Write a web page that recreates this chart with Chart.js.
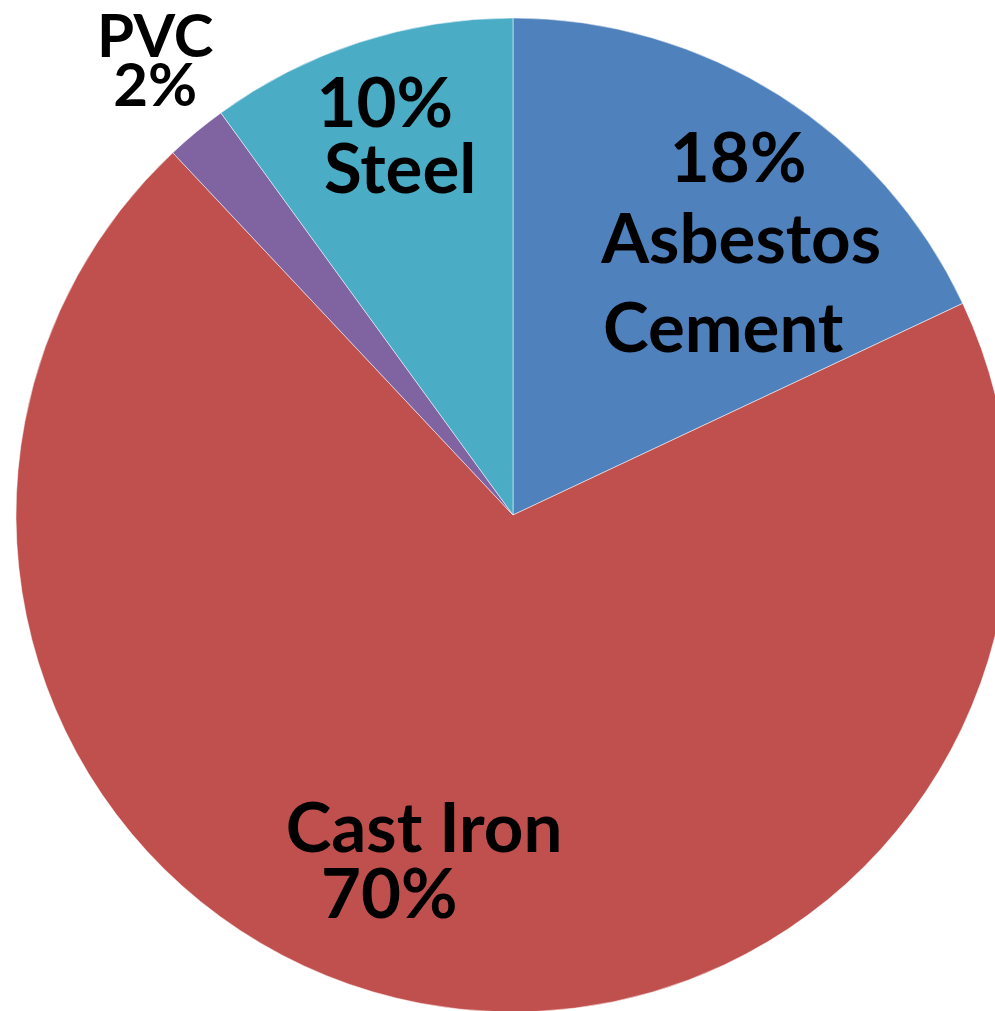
<!DOCTYPE html>
<html>
<head>
<meta charset="utf-8">
<script src="https://cdn.jsdelivr.net/npm/chart.js@4/dist/chart.umd.min.js"></script>
<style>
  html, body { margin: 0; padding: 0; background: #fff; overflow: hidden; }
  #wrap { width: 1026px; height: 1030px; }
</style>
</head>
<body>
<div id="wrap"><canvas id="pipeChart" width="1026" height="1030"></canvas></div>
<script>
// pipe material shares (%), clockwise from 12 o'clock
const materials = ['Asbestos Cement', 'Cast Iron', 'PVC', 'Steel']
const shares = [18, 70, 2, 10]
const sliceColors = ['#4F81BD', '#C0504D', '#8064A2', '#4BACC6']

// label lines for each slice, placed in units of the radius from the centre
const labelLayout = [
    [{ k: 'pct', dx: 0.453, dy: -0.670 }, { k: 'Asbestos', dx: 0.459, dy: -0.507 }, { k: 'Cement', dx: 0.423, dy: -0.328 }],
    [{ k: 'Cast Iron', dx: -0.179, dy: 0.678 }, { k: 'pct', dx: -0.249, dy: 0.811 }],
    [{ k: 'PVC', dx: -0.720, dy: -0.921, size: 60 }, { k: 'pct', dx: -0.720, dy: -0.823, size: 60 }],
    [{ k: 'pct', dx: -0.258, dy: -0.781 }, { k: 'Steel', dx: -0.227, dy: -0.648 }]
]

const sliceLabels = {
    id: 'sliceLabels',
    afterDatasetsDraw(chart) {
        const ctx = chart.ctx
        const arc = chart.getDatasetMeta(0).data[0]
        const cx = arc.x, cy = arc.y, r = arc.outerRadius
        ctx.save()
        ctx.fillStyle = '#000'
        ctx.textAlign = 'center'
        ctx.textBaseline = 'alphabetic'
        labelLayout.forEach((lines, i) => {
            lines.forEach(l => {
                const txt = l.k === 'pct' ? shares[i] + '%' : l.k
                ctx.font = 'bold ' + (l.size || 69) + 'px Lato'
                ctx.fillText(txt, cx + l.dx * r, cy + l.dy * r)
            })
        })
        ctx.restore()
    }
}

new Chart(document.getElementById('pipeChart'), {
    type: 'pie',
    data: {
        labels: materials,
        datasets: [{
            data: shares,
            backgroundColor: sliceColors,
            borderColor: 'rgba(255,255,255,0.5)',
            borderWidth: 1
        }]
    },
    options: {
        responsive: false,
        animation: false,
        radius: 497,
        layout: { padding: 16 },
        plugins: {
            legend: { display: false },
            tooltip: { enabled: false }
        }
    },
    plugins: [sliceLabels]
})
</script>
</body>
</html>
